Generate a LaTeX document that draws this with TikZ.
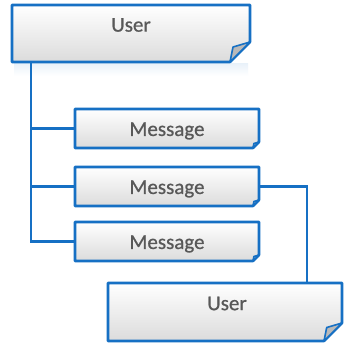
\documentclass[tikz,border=0pt]{standalone}
\usepackage{fontspec}
\setmainfont{Carlito}
\newfontfamily\lblfont{Carlito}[FakeBold=0.7]
\definecolor{bblue}{RGB}{22,112,196}
\definecolor{tgray}{RGB}{88,88,88}
\definecolor{foldgray}{RGB}{185,185,185}
\tikzset{
  anchorbox/.style={rectangle, draw=none, inner sep=0pt, outer sep=0pt},
  boxline/.style={draw=bblue, line width=2.6pt, line join=round, top color=white, bottom color=black!14},
  foldline/.style={draw=bblue, line width=1.6pt, line join=round, fill=foldgray},
  conn/.style={draw=bblue, line width=2.6pt},
  lbl/.style={text=tgray, font=\lblfont\fontsize{21}{25}\selectfont, inner sep=0pt},
}
\newcommand{\foldbox}[2]{%
  \path[boxline] (#1.north west) -- (#1.north east) -- ([yshift=#2]#1.south east)
     -- ([xshift=-#2]#1.south east) -- (#1.south west) -- cycle;
  \path[foldline] ([xshift=-#2]#1.south east) -- ([xshift=-0.85*#2, yshift=0.75*#2]#1.south east)
     -- ([yshift=#2]#1.south east) -- cycle;
}
\begin{document}
\begin{tikzpicture}[x=1pt,y=-1pt]
\useasboundingbox[fill=white] (0,0) rectangle (343,344);
% nodes (boxes)
\node[anchorbox, minimum width=238pt, minimum height=57pt] (u1) at (131,33.5) {};
\node[anchorbox, minimum width=184pt, minimum height=39pt] (m1) at (167,128.5) {};
\node[anchorbox, minimum width=184pt, minimum height=39pt] (m2) at (167,186.5) {};
\node[anchorbox, minimum width=184pt, minimum height=39pt] (m3) at (167,241.5) {};
\node[anchorbox, minimum width=234pt, minimum height=58pt] (u2) at (225,312) {};
% faint reflection under top box
\shade[top color=bblue!9, bottom color=white] (14,64) rectangle (248,76);
\coordinate (trunk) at (31,0);
% connectors
\draw[conn] (u1.south -| trunk) |- (m3.west);
\draw[conn] (trunk |- m1.west) -- (m1.west);
\draw[conn] (trunk |- m2.west) -- (m2.west);
\draw[conn] (m2.east) -| ([xshift=82pt]u2.north);
% boxes
\foldbox{u1}{20pt}
\foldbox{m1}{6pt}
\foldbox{m2}{6pt}
\foldbox{m3}{6pt}
\foldbox{u2}{18pt}
% labels
\node[lbl] (u1t) at (131,25) {User};
\node[lbl] (m1t) at (167,131) {Message};
\node[lbl] (m2t) at (167,189) {Message};
\node[lbl] (m3t) at (167,244) {Message};
\node[lbl] (u2t) at (227,303.5) {User};
\end{tikzpicture}
\end{document}
